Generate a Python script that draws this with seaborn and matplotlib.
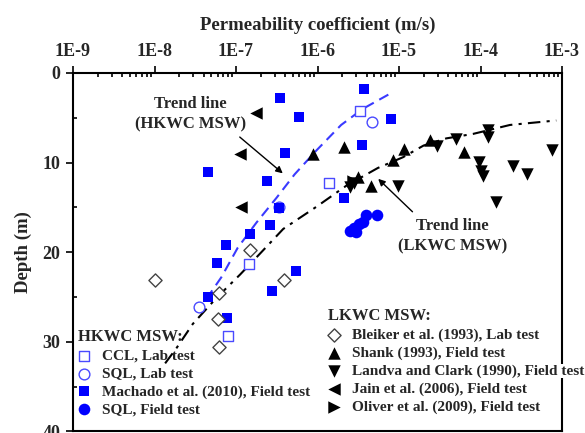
import numpy as np
import seaborn as sns
import matplotlib.pyplot as plt
from matplotlib.ticker import LogLocator, NullFormatter, MultipleLocator

# ---- data: permeability k (m/s) and depth (m) ----
# HKWC MSW
ccl_lab_k = [3.3e-6, 1.4e-6, 1.45e-7, 7.9e-8]
ccl_lab_d = [4.2, 12.3, 21.3, 29.4]

sql_lab_k = [4.7e-6, 3.4e-7, 3.5e-8]
sql_lab_d = [5.5, 14.9, 26.1]

machado_k = [3.7e-6, 3.5e-7, 5.9e-7, 7.9e-6, 3.5e-6, 4.0e-7, 2.4e-7, 2.1e-6, 3.4e-7,
             2.6e-7, 4.5e-8, 1.5e-7, 7.6e-8, 5.9e-8, 4.5e-8, 7.8e-8, 5.4e-7, 2.8e-7]
machado_d = [1.8, 2.8, 4.9, 5.1, 8.0, 8.9, 12.0, 13.9, 15.1,
             17.0, 11.1, 18.0, 19.2, 21.2, 25.0, 27.3, 22.1, 24.3]

sql_field_k = [5.4e-6, 3.9e-6, 3.6e-6, 3.2e-6, 2.8e-6, 2.5e-6, 2.95e-6]
sql_field_d = [15.8, 15.9, 16.6, 16.9, 17.3, 17.6, 17.7]

# LKWC MSW
bleiker_k = [1.0e-8, 1.5e-7, 6.2e-8, 6.0e-8, 6.2e-8, 3.9e-7]
bleiker_d = [23.1, 19.8, 24.5, 27.5, 30.6, 23.1]

shank_k = [8.7e-7, 2.1e-6, 3.1e-6, 4.5e-6, 8.5e-6, 1.15e-5, 2.4e-5, 6.2e-5]
shank_d = [9.0, 8.3, 11.6, 12.6, 9.7, 8.5, 7.5, 8.8]

landva_k = [2.8e-6, 2.5e-6, 9.8e-6, 2.9e-5, 5.0e-5, 1.23e-4, 1.23e-4, 9.5e-5,
            1.02e-4, 1.07e-4, 1.55e-4, 2.5e-4, 3.7e-4, 7.6e-4]
landva_d = [12.3, 12.7, 12.6, 8.1, 7.4, 6.4, 7.1, 9.9,
            10.9, 11.5, 14.4, 10.4, 11.3, 8.55]

jain_k = [1.74e-7, 1.12e-7, 1.15e-7]
jain_d = [4.45, 9.0, 15.0]

oliver_k = [2.7e-6]
oliver_d = [12.0]

# trend lines
hkwc_trend_k = [3.16e-8, 4.57e-8, 6.6e-8, 1.05e-7, 1.78e-7, 3.16e-7, 5.25e-7,
                9.8e-7, 1.95e-6, 3.6e-6, 7.8e-6]
hkwc_trend_d = [26.6, 24.9, 22.8, 19.5, 16.7, 13.9, 11.3, 8.6, 5.8, 4.0, 2.3]

lkwc_trend_k = [1.35e-8, 1.86e-8, 2.95e-8, 5.75e-8, 1.12e-7, 1.95e-7, 3.8e-7, 9.8e-7,
                2.24e-6, 5.5e-6, 1.12e-5, 2.0e-5, 3.8e-5, 8.1e-5, 2.3e-4, 8.5e-4]
lkwc_trend_d = [32.4, 30.7, 28.0, 25.1, 22.5, 20.2, 17.4, 14.9,
                12.6, 10.6, 9.4, 8.1, 7.3, 6.8, 5.8, 5.3]

decades = [1e-9, 1e-8, 1e-7, 1e-6, 1e-5, 1e-4, 1e-3]
decade_labels = ['1E-9', '1E-8', '1E-7', '1E-6', '1E-5', '1E-4', '1E-3']

sns.set_theme(style='ticks')
plt.rcParams['font.family'] = ['Liberation Serif', 'DejaVu Serif']
plt.rcParams['font.weight'] = 'bold'

fig = plt.figure(figsize=(5.85, 4.33), dpi=100)
ax = fig.add_axes([0.1248, 0.0035, 0.8359, 0.828])

blue = '#0000ff'
open_blue = '#4a4aff'


def scat(k, d, marker, s, color, hollow=False, label=None):
    sns.scatterplot(x=k, y=d, marker=marker, s=s, color=color, ax=ax,
                    legend=False, linewidth=1.0 if hollow else 0, zorder=3)
    coll = ax.collections[-1]
    if hollow:
        coll.set_facecolor('white')
        coll.set_edgecolor(color)
        coll.set_linewidth(1.0)
    coll.set_label(label)
    return coll


# trend lines
sns.lineplot(x=hkwc_trend_k, y=hkwc_trend_d, sort=False, estimator=None, ax=ax,
             color='#3a3aff', lw=1.5, dashes=False, zorder=2)
ax.lines[-1].set_dashes([5, 3])
sns.lineplot(x=lkwc_trend_k, y=lkwc_trend_d, sort=False, estimator=None, ax=ax,
             color='black', lw=1.5, zorder=2)
ax.lines[-1].set_dashes([6, 3, 1.5, 3])

h_ccl = scat(ccl_lab_k, ccl_lab_d, 's', 55, open_blue, True, 'CCL, Lab test')
h_sqll = scat(sql_lab_k, sql_lab_d, 'o', 60, open_blue, True, 'SQL, Lab test')
h_mach = scat(machado_k, machado_d, 's', 60, blue, False, 'Machado et al. (2010), Field test')
h_sqlf = scat(sql_field_k, sql_field_d, 'o', 70, blue, False, 'SQL, Field test')

h_blk = scat(bleiker_k, bleiker_d, 'D', 45, '#444444', True, 'Bleiker et al. (1993), Lab test')
h_sha = scat(shank_k, shank_d, '^', 80, 'black', False, 'Shank (1993), Field test')
h_lan = scat(landva_k, landva_d, 'v', 80, 'black', False, 'Landva and Clark (1990), Field test')
h_jai = scat(jain_k, jain_d, '<', 80, 'black', False, 'Jain et al. (2006), Field test')
h_oli = scat(oliver_k, oliver_d, '>', 80, 'black', False, 'Oliver et al. (2009), Field test')

# axes
ax.set_xscale('log')
ax.set_xlim(1e-9, 1e-3)
ax.set_ylim(40, 0)
ax.set_xticks(decades)
ax.set_xticklabels(decade_labels)
ax.xaxis.set_minor_locator(LogLocator(base=10, subs=np.arange(2, 10)))
ax.xaxis.set_minor_formatter(NullFormatter())
ax.set_yticks([0, 10, 20, 30, 40])
ax.yaxis.set_minor_locator(MultipleLocator(5))
ax.xaxis.set_label_position('top')
ax.tick_params(which='both', top=True, bottom=False, left=True, right=False,
               labeltop=True, labelbottom=False, labelsize=13, width=1.2, color='black')
ax.tick_params(which='major', direction='out', length=5, pad=4)
ax.tick_params(which='minor', direction='in', length=3)
for sp in ax.spines.values():
    sp.set_linewidth(1.5)
    sp.set_color('black')
ax.set_xlabel('Permeability coefficient (m/s)', fontsize=13.5, fontweight='bold', labelpad=10)
ax.set_ylabel('Depth (m)', fontsize=13.5, fontweight='bold', labelpad=8)

# annotations
ax.text(2.75e-8, 4.6, 'Trend line\n(HKWC MSW)', ha='center', va='center',
        fontsize=12, fontweight='bold', linespacing=1.35)
ax.annotate('', xy=(10 ** -6.40, 11.4), xytext=(10 ** -6.98, 6.95),
            arrowprops=dict(arrowstyle='-|>', color='black', lw=1, mutation_scale=10))
ax.text(10 ** -4.34, 18.2, 'Trend line\n(LKWC MSW)', ha='center', va='center',
        fontsize=12, fontweight='bold', linespacing=1.35)
ax.annotate('', xy=(10 ** -5.28, 11.6), xytext=(10 ** -4.81, 15.7),
            arrowprops=dict(arrowstyle='-|>', color='black', lw=1, mutation_scale=10))

# legends
leg_kw = dict(frameon=False, loc='upper left', borderpad=0, borderaxespad=0,
              scatterpoints=1, handlelength=0.8, handletextpad=0.8, labelspacing=0.27,
              prop={'size': 11, 'weight': 'bold'},
              title_fontproperties={'size': 12, 'weight': 'bold'},
              alignment='left', bbox_transform=fig.transFigure)
leg1 = ax.legend(handles=[h_ccl, h_sqll, h_mach, h_sqlf], title='HKWC MSW:',
                 bbox_to_anchor=(78 / 585, 1 - 329 / 433), **leg_kw)
ax.add_artist(leg1)
leg2 = ax.legend(handles=[h_blk, h_sha, h_lan, h_jai, h_oli], title='LKWC MSW:',
                 bbox_to_anchor=(328 / 585, 1 - 308 / 433), **leg_kw)
for t in leg2.get_texts():
    if t.get_text().startswith('Landva'):
        t.set_bbox(dict(facecolor='white', edgecolor='none', pad=0))

fig.savefig('out.png', dpi=100)
